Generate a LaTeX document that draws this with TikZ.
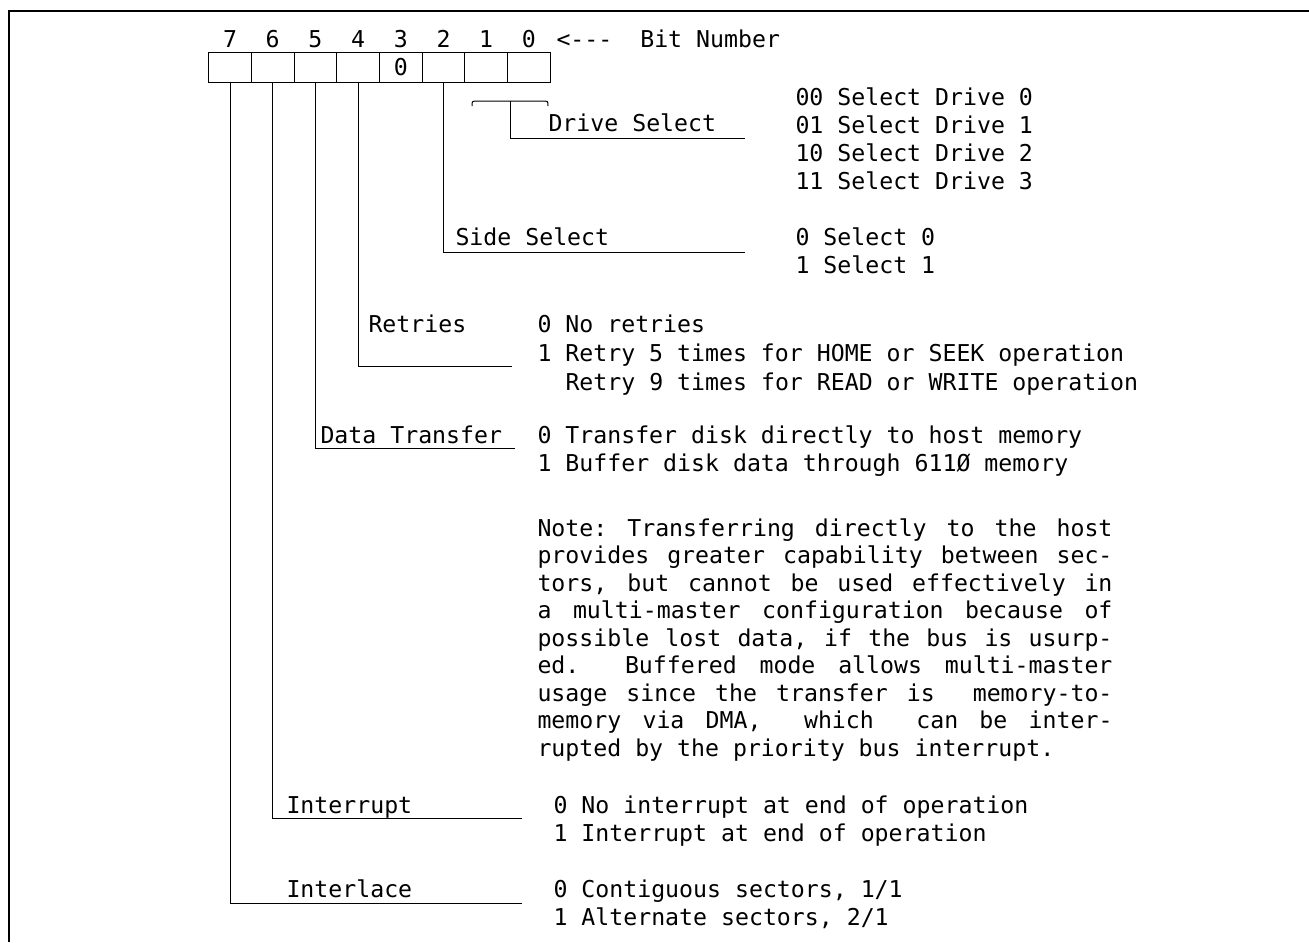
\documentclass[tikz,border=0pt]{standalone}
\usepackage{fontspec}
\setmonofont{DejaVu Sans Mono}
\tikzset{
  bitbox/.style={draw, minimum width=21.35pt, minimum height=15pt, inner sep=0pt},
  txt/.style={anchor=base west, inner sep=0pt, font=\ttfamily\fontsize{11.6}{13.75}\selectfont},
}
\begin{document}
\begin{tikzpicture}[x=0.5pt,y=-0.5pt,line width=0.5pt]
\useasboundingbox (0,0) rectangle (1309,942);
\draw[line width=1pt] (9,942) -- (9,11) -- (1309,11);

% register bits
\foreach \b [count=\i from 0] in {7,...,0}{
  \node[bitbox] (b\b) at (230+\i*42.7,67) {};
  \node[txt,anchor=base] (n\b) at (230+\i*42.7,47) {\b};
}
\node[txt,anchor=center] (z3) at (b3) {0};
\node[txt] (bitnum) at (556,47) {<---~ Bit Number};

% drive select
\draw (472,106) .. controls (472,101) .. (478,101) -- (542,101) .. controls (548,101) .. (548,106);
\coordinate (brM) at (510,101);
\coordinate (drvE) at (745,138);
\draw (brM) |- (drvE);
\node[txt] (drvL) at (548,131) {Drive Select};
\foreach \t [count=\k from 0] in {00 Select Drive 0,01 Select Drive 1,10 Select Drive 2,11 Select Drive 3}
  \node[txt] (drv\k) at (795,105+\k*28) {\t};

% side select
\coordinate (sidE) at (745,252);
\draw (b2.south) |- (sidE);
\node[txt] (sidL) at (455,245) {Side Select};
\node[txt] (sid0) at (795,245) {0 Select 0};
\node[txt] (sid1) at (795,273) {1 Select 1};

% retries
\coordinate (retE) at (512,366);
\draw (b4.south) |- (retE);
\node[txt] (retL) at (368,332) {Retries};
\node[txt] (ret0) at (537,332) {0 No retries};
\node[txt] (ret1) at (537,361) {1 Retry 5 times for HOME or SEEK operation};
\node[txt] (ret2) at (565,390) {Retry 9 times for READ or WRITE operation};

% data transfer
\coordinate (datE) at (515,448);
\draw (b5.south) |- (datE);
\node[txt] (datL) at (320,443) {Data Transfer};
\node[txt] (dat0) at (537,443) {0 Transfer disk directly to host memory};
\node[txt] (dat1) at (537,471) {1 Buffer disk data through 611Ø memory};
\node[txt,anchor=north west,text width=287.5pt,align=justify] (note) at (537,518)
  {\spaceskip=\fontdimen2\font plus 1em\xspaceskip=\spaceskip
   \tolerance=10000\hyphenpenalty=10000\noindent
   Note: Transferring directly to the host\linebreak
   provides greater capability between sec-\linebreak
   tors, but cannot be used effectively in\linebreak
   a multi-master configuration because of\linebreak
   possible lost data, if the bus is usurp-\linebreak
   ed.~ Buffered mode allows multi-master\linebreak
   usage since the transfer is~ memory-to-\linebreak
   memory via DMA,~ which~ can be inter-\linebreak
   rupted by the priority bus interrupt.};

% interrupt
\coordinate (intE) at (522,818);
\draw (b6.south) |- (intE);
\node[txt] (intL) at (286,813) {Interrupt};
\node[txt] (int0) at (553,813) {0 No interrupt at end of operation};
\node[txt] (int1) at (553,841) {1 Interrupt at end of operation};

% interlace
\coordinate (ilcE) at (522,903);
\draw (b7.south) |- (ilcE);
\node[txt] (ilcL) at (286,897) {Interlace};
\node[txt] (ilc0) at (553,897) {0 Contiguous sectors, 1/1};
\node[txt] (ilc1) at (553,925) {1 Alternate sectors, 2/1};
\end{tikzpicture}
\end{document}
